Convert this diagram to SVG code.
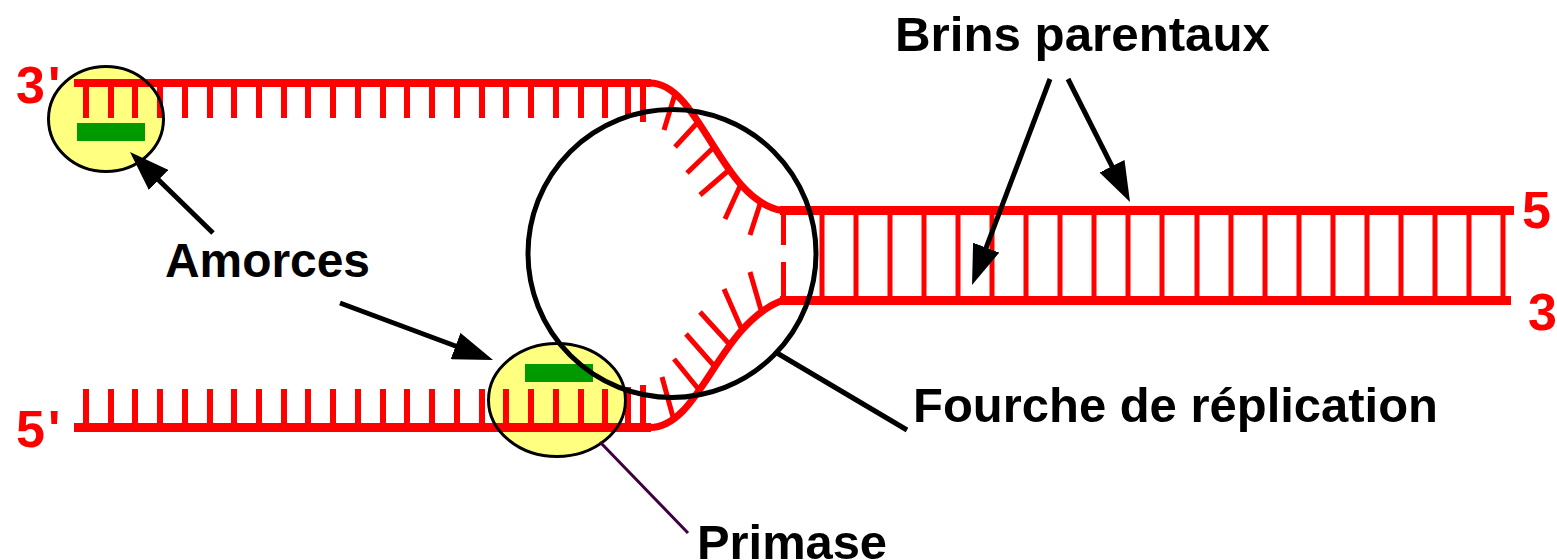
<svg xmlns="http://www.w3.org/2000/svg" width="1557" height="560" viewBox="0 0 1557 560">
  <style>
    .dna { fill: none; stroke: #ff0000; stroke-linecap: butt; }
    .bar { fill: #ff0000; }
    .primer-fill { fill: #ffff80; stroke: none; }
    .primer-edge { fill: none; stroke: #000; stroke-width: 3; }
    .rna { fill: #009900; }
    .label { font-family: "Liberation Sans", Arial, sans-serif; font-weight: bold; font-size: 48px; fill: #000; }
    .end { font-family: "Liberation Sans", Arial, sans-serif; font-weight: bold; font-size: 52px; fill: #ff0000; }
    .pointer { fill: none; stroke: #000; stroke-width: 5; }
  </style>
  <defs>
    <marker id="arrow" viewBox="0 0 40 28" refX="20" refY="14" markerWidth="40" markerHeight="28" markerUnits="userSpaceOnUse" orient="auto">
      <path d="M0,0 L40,14 L0,28 Z" fill="#000"/>
    </marker>
  </defs>
  <rect width="1557" height="560" fill="#fff"/>

  <!-- primer backgrounds -->
  <g id="primer-top-fill"><ellipse class="primer-fill" cx="106" cy="119" rx="57.5" ry="52.5"/></g>
  <g id="primer-bottom-fill"><ellipse class="primer-fill" cx="557" cy="400" rx="68.5" ry="56.5"/></g>

  <!-- DNA strands -->
  <g id="dna">
    <!-- upper separated strand -->
    <rect class="bar" x="74" y="79" width="577" height="8"/>
    <path class="dna" stroke-width="6" d="M86 87V118 M111 87V118 M135 87V118 M160 87V118 M185 87V118 M210 87V118 M234 87V118 M259 87V118 M284 87V118 M308 87V118 M333 87V118 M358 87V118 M383 87V118 M407 87V118 M432 87V118 M457 87V118 M482 87V118 M506 87V118 M531 87V118 M556 87V118 M581 87V118 M605 87V118 M628 87V117 M643 87V122"/>
    <path class="dna" stroke-width="7" d="M650 83 C700 83 720 200 782 210.5"/>
    <path class="dna" stroke-width="5" d="M675 94L664 130 M699 121L675 147 M714 147L687 173 M729 170L700 195 M741 184L725 219 M761 201L750 235"/>

    <!-- lower separated strand -->
    <rect class="bar" x="74" y="423" width="577" height="9"/>
    <path class="dna" stroke-width="6" d="M86 389V423 M111 389V423 M135 389V423 M160 389V423 M185 389V423 M210 389V423 M234 389V423 M259 389V423 M284 389V423 M308 389V423 M333 389V423 M358 389V423 M383 389V423 M407 389V423 M432 389V423 M457 389V423 M482 389V423 M506 389V423 M531 389V423 M556 389V423 M581 389V423 M605 389V423 M628 387V423 M643 385V423"/>
    <path class="dna" stroke-width="7" d="M650 427.5 C700 427.5 718 325 782 300.5"/>
    <path class="dna" stroke-width="5" d="M673 417L662 377 M700 391L674 359 M716 368L686 334 M731 346L700 312 M742 330L724 289 M761 310L750 272"/>

    <!-- parental double helix -->
    <rect class="bar" x="780" y="206" width="734" height="9"/>
    <rect class="bar" x="780" y="296" width="731" height="9"/>
    <path class="dna" stroke-width="5" d="M783.5 213V245 M783.5 262V297 M822 215V296 M856 215V296 M890 215V296 M924 215V296 M958 215V296 M992 215V296 M1026 215V296 M1060 215V296 M1094 215V296 M1128 215V296 M1162 215V296 M1197 215V296 M1231 215V296 M1265 215V296 M1299 215V296 M1333 215V296 M1367 215V296 M1401 215V296 M1435 215V296 M1469 215V296 M1503 215V296"/>
  </g>

  <!-- RNA primers -->
  <g id="primer-top">
    <rect class="rna" x="77" y="123" width="68" height="18"/>
    <ellipse class="primer-edge" cx="106" cy="119" rx="57.5" ry="52.5"/>
  </g>
  <g id="primer-bottom">
    <rect class="rna" x="525" y="364" width="68" height="18"/>
    <ellipse class="primer-edge" cx="557" cy="400" rx="68.5" ry="56.5"/>
  </g>

  <!-- replication fork outline -->
  <g id="fork">
    <circle cx="672" cy="253.5" r="144" fill="none" stroke="#000" stroke-width="5"/>
  </g>

  <!-- strand end labels -->
  <g id="ends">
    <text class="end" x="16" y="103">3<tspan dx="3">'</tspan></text>
    <text class="end" x="16" y="447">5<tspan dx="3">'</tspan></text>
    <text class="end" x="1522" y="228">5</text>
    <text class="end" x="1528" y="330">3</text>
  </g>

  <!-- connectors -->
  <g id="connectors">
    <path class="pointer" d="M213 233 L144.3 166" marker-end="url(#arrow)"/>
    <path class="pointer" d="M340 303 L474.3 353" marker-end="url(#arrow)"/>
    <path class="pointer" d="M1050 79 L979.1 266.3" marker-end="url(#arrow)"/>
    <path class="pointer" d="M1068 79 L1121 184.1" marker-end="url(#arrow)"/>
    <path class="pointer" d="M777 353 L907 430"/>
    <path d="M600 442 L688 533" fill="none" stroke="#400040" stroke-width="3"/>
  </g>

  <!-- labels -->
  <g id="label-brins"><text class="label" x="895" y="51" textLength="375" lengthAdjust="spacingAndGlyphs">Brins parentaux</text></g>
  <g id="label-amorces"><text class="label" x="165" y="277" textLength="205" lengthAdjust="spacingAndGlyphs">Amorces</text></g>
  <g id="label-fourche"><text class="label" x="913" y="422" textLength="525" lengthAdjust="spacingAndGlyphs">Fourche de réplication</text></g>
  <g id="label-primase"><text class="label" x="697" y="559" textLength="190" lengthAdjust="spacingAndGlyphs">Primase</text></g>
</svg>
